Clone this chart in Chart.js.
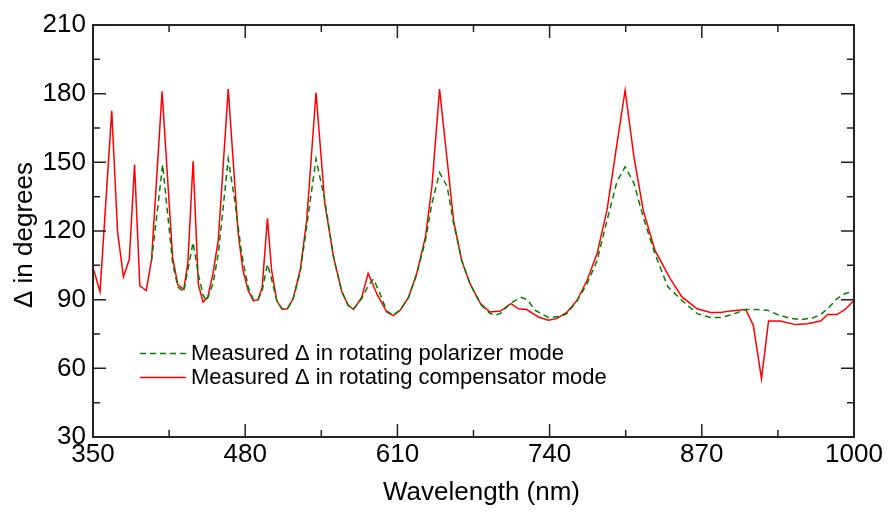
<!DOCTYPE html>
<html>
<head>
<meta charset="utf-8">
<script src="https://cdn.jsdelivr.net/npm/chart.js@4.4.0/dist/chart.umd.min.js"></script>
<style>
  html, body { margin: 0; padding: 0; background: #ffffff; }
  #wrap { width: 888px; height: 513px; }
</style>
</head>
<body>
<div id="wrap"><canvas id="c" width="888" height="513"></canvas></div>
<script>
// ---- Data ----
const xTickValues = [350, 480, 610, 740, 870, 1000];
const yTickValues = [30, 60, 90, 120, 150, 180, 210];

const seriesNames = [
  "Measured \u0394 in rotating polarizer mode",
  "Measured \u0394 in rotating compensator mode"
];

// Rotating polarizer mode (green dashed)
const polWl = [400, 409.5, 418, 422.5, 427.5, 431, 435.5, 440, 444, 447, 452.5, 457, 465.5, 471, 477, 482.5, 487, 491, 494.5, 499, 502.5, 507, 511.5, 516, 521, 527, 532.5, 540.5, 548, 555.5, 562.5, 568, 572.5, 579.5, 585, 589.5, 594, 601, 606.5, 612.5, 619.5, 626.5, 634, 639.5, 646, 652.5, 658, 665, 672, 681, 689, 693.5, 698, 705, 710, 716, 721, 727.5, 739, 750, 755, 763.5, 772, 780.5, 789, 797.5, 804.5, 812, 820, 830, 841, 854.5, 866, 877.5, 886, 896, 907.5, 917.5, 926, 934.5, 944.5, 954.5, 964.5, 971.5, 978.5, 985.5, 992.5, 1000];
const polVal = [107, 149, 106, 95.5, 93.5, 103, 115, 101, 92, 89.5, 97, 110, 151.5, 133.5, 110, 95.5, 90, 90, 94, 105.5, 99, 89.5, 86, 86, 90.5, 102, 122, 151.5, 133.5, 108.5, 93.5, 87.5, 86, 90.5, 96, 99, 94, 85, 83.2, 85.5, 91, 101, 116, 132, 145.5, 139.5, 123.5, 107, 97, 88, 84, 83.2, 84, 87.6, 89.5, 91, 90, 85.4, 82.2, 82.7, 84, 89.5, 97, 107, 124.5, 141.5, 148, 141, 126, 110, 95.6, 89, 83.9, 82.2, 82.2, 83.5, 85.7, 85.7, 85.4, 83.5, 82, 81.3, 82, 83.5, 86.5, 90.5, 92.7, 93.8];

// Rotating compensator mode (red solid)
const compWl = [350, 356, 366, 371, 376, 381, 385.5, 390, 395.5, 400, 409, 418, 422.5, 427.5, 431, 435.5, 440, 444, 448, 452.5, 457, 465.5, 474, 478, 482.5, 487, 491, 494.5, 499, 502.5, 507, 511.5, 516, 521, 527, 532.5, 540.5, 548, 555.5, 562.5, 568, 572.5, 579.5, 585, 592.5, 601, 606.5, 612.5, 619.5, 626.5, 634, 639.5, 646, 652.5, 658, 665, 672, 681, 689, 698, 707, 713.5, 720.5, 730.5, 739, 746, 755, 763.5, 772, 780.5, 789, 797.5, 804.5, 812, 820, 830, 843, 853, 866, 877.5, 886, 894.5, 907.5, 914, 921, 927, 937, 950, 960, 971.5, 977.5, 985.5, 992.5, 1000];
const compVal = [104, 93.5, 172.5, 119.5, 100, 107.5, 149, 96, 94, 107.5, 181, 108.5, 96.5, 94.5, 106, 150.5, 96.5, 89, 91, 101.5, 116, 182, 119, 103, 94, 89.5, 90, 95.5, 125.5, 103, 89.5, 85.8, 86, 90.5, 103, 124.5, 180.5, 132, 108.5, 93.5, 87.5, 85.7, 91, 101.5, 92.5, 84.5, 83, 85.5, 91, 101.5, 117.5, 139.5, 182, 151, 124.5, 107, 97, 88.3, 84.6, 85, 88.3, 86, 85.7, 82.4, 81, 81.7, 84.6, 89.7, 98.5, 110, 129, 158, 181.5, 152.5, 129, 111.5, 99.2, 91.2, 86, 84.4, 84.4, 85.1, 85.7, 78.8, 55.5, 80.7, 80.7, 79.1, 79.5, 80.7, 83.5, 83.5, 85.7, 89.7];

const seriesColors = ["rgb(0,128,0)", "rgb(255,0,0)"];
const FONT = "'Liberation Sans', Arial, Helvetica, sans-serif";

function toPoints(xs, ys) { return xs.map((x, i) => ({ x: x, y: ys[i] })); }

// Frame, inward major/minor ticks, axis titles and legend
const decorPlugin = {
  id: 'decor',
  afterDraw(chart) {
    const ctx = chart.ctx;
    const a = chart.chartArea;
    const xs = chart.scales.x, ys = chart.scales.y;
    ctx.save();
    ctx.strokeStyle = '#222';
    ctx.lineWidth = 2;
    ctx.strokeRect(a.left, a.top, a.right - a.left, a.bottom - a.top);

    ctx.lineWidth = 1.5;
    const majorLen = 13, minorLen = 7;
    ctx.beginPath();
    for (let i = 0; i < xTickValues.length; i++) {
      const px = xs.getPixelForValue(xTickValues[i]);
      ctx.moveTo(px, a.bottom); ctx.lineTo(px, a.bottom - majorLen);
      ctx.moveTo(px, a.top); ctx.lineTo(px, a.top + majorLen);
      if (i < xTickValues.length - 1) {
        const mx = xs.getPixelForValue((xTickValues[i] + xTickValues[i + 1]) / 2);
        ctx.moveTo(mx, a.bottom); ctx.lineTo(mx, a.bottom - minorLen);
        ctx.moveTo(mx, a.top); ctx.lineTo(mx, a.top + minorLen);
      }
    }
    for (let i = 0; i < yTickValues.length; i++) {
      const py = ys.getPixelForValue(yTickValues[i]);
      ctx.moveTo(a.left, py); ctx.lineTo(a.left + majorLen, py);
      ctx.moveTo(a.right, py); ctx.lineTo(a.right - majorLen, py);
      if (i < yTickValues.length - 1) {
        const my = ys.getPixelForValue((yTickValues[i] + yTickValues[i + 1]) / 2);
        ctx.moveTo(a.left, my); ctx.lineTo(a.left + minorLen, my);
        ctx.moveTo(a.right, my); ctx.lineTo(a.right - minorLen, my);
      }
    }
    ctx.stroke();

    // Axis titles
    ctx.fillStyle = '#000';
    ctx.font = '26px ' + FONT;
    ctx.textAlign = 'center';
    ctx.textBaseline = 'alphabetic';
    ctx.fillText('Wavelength (nm)', (a.left + a.right) / 2 + 8, 500);
    ctx.save();
    ctx.translate(32, (a.top + a.bottom) / 2 + 4);
    ctx.rotate(-Math.PI / 2);
    ctx.fillText('\u0394 in degrees', 0, 0);
    ctx.restore();

    // Legend
    ctx.font = '22px ' + FONT;
    ctx.textAlign = 'left';
    const rows = [
      { lineY: 353.5, baseY: 360, dash: [6, 4] },
      { lineY: 377.5, baseY: 384, dash: [] }
    ];
    rows.forEach((r, i) => {
      ctx.strokeStyle = seriesColors[i];
      ctx.lineWidth = 1.5;
      ctx.setLineDash(r.dash);
      ctx.beginPath();
      ctx.moveTo(140, r.lineY); ctx.lineTo(186, r.lineY);
      ctx.stroke();
      ctx.setLineDash([]);
      ctx.fillStyle = '#000';
      ctx.fillText(seriesNames[i], 191, r.baseY);
    });
    ctx.restore();
  }
};

new Chart(document.getElementById('c'), {
  type: 'line',
  data: {
    datasets: [
      {
        label: seriesNames[0],
        data: toPoints(polWl, polVal),
        borderColor: seriesColors[0],
        borderWidth: 1.5,
        borderDash: [6, 4],
        pointRadius: 0,
        fill: false,
        tension: 0
      },
      {
        label: seriesNames[1],
        data: toPoints(compWl, compVal),
        borderColor: seriesColors[1],
        borderWidth: 1.5,
        pointRadius: 0,
        fill: false,
        tension: 0
      }
    ]
  },
  options: {
    responsive: false,
    animation: false,
    devicePixelRatio: 1,
    layout: { padding: { left: 0, right: 34, top: 25, bottom: 0 } },
    plugins: { legend: { display: false }, tooltip: { enabled: false } },
    scales: {
      x: {
        type: 'linear',
        min: 350, max: 1000,
        afterBuildTicks: (s) => { s.ticks = xTickValues.map(v => ({ value: v })); },
        afterFit: (s) => { s.height = 76; },
        grid: { display: false, drawTicks: false },
        border: { display: false },
        ticks: { color: '#000', font: { size: 26, family: FONT }, padding: 2, maxRotation: 0, autoSkip: false,
                 callback: (v) => String(v) }
      },
      y: {
        type: 'linear',
        min: 30, max: 210,
        afterBuildTicks: (s) => { s.ticks = yTickValues.map(v => ({ value: v })); },
        afterFit: (s) => { s.width = 93; },
        grid: { display: false, drawTicks: false },
        border: { display: false },
        ticks: { color: '#000', font: { size: 26, family: FONT }, padding: 7, autoSkip: false,
                 callback: (v) => String(v) }
      }
    }
  },
  plugins: [decorPlugin]
});
</script>
</body>
</html>
